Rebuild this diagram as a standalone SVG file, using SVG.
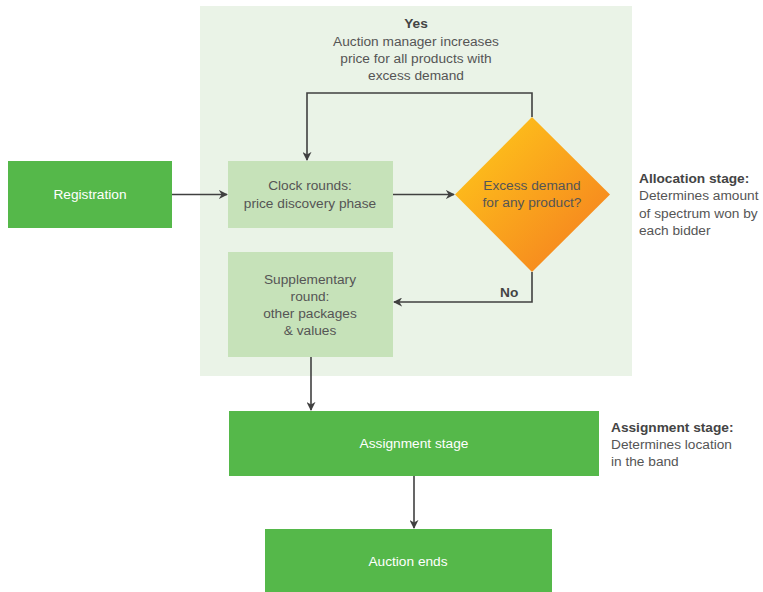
<svg xmlns="http://www.w3.org/2000/svg" width="763" height="592" viewBox="0 0 763 592">
<style>
text{font-family:"Liberation Sans",Arial,sans-serif;font-size:13.7px;fill:#555}
.w{fill:#fff}
.b{font-weight:bold;fill:#444}
.c{text-anchor:middle}
.ln{fill:none;stroke:#404040;stroke-width:1.6}
.dark{fill:#55b84a}
.light{fill:#c6e2b9}
</style>
<defs>
<marker id="ah" viewBox="0 0 10 10" refX="9" refY="5" markerWidth="9" markerHeight="9" markerUnits="userSpaceOnUse" orient="auto">
<path d="M0,0 L10,5 L0,10 L3,5 Z" fill="#404040"/>
</marker>
<linearGradient id="og" x1="0" y1="0" x2="1" y2="1">
<stop offset="0.2" stop-color="#fdbc1b"/>
<stop offset="0.85" stop-color="#f6861f"/>
</linearGradient>
</defs>
<rect id="panel" x="200" y="6" width="432" height="370" fill="#eaf3e7"/>
<g id="yes-label">
<text class="b c" x="416" y="28">Yes</text>
<text class="c" x="416" y="46">Auction manager increases</text>
<text class="c" x="416" y="63">price for all products with</text>
<text class="c" x="416" y="80">excess demand</text>
</g>
<g id="registration">
<rect class="dark" x="8" y="161" width="164" height="67"/>
<text class="w c" x="90" y="199">Registration</text>
</g>
<g id="clock">
<rect class="light" x="228" y="161" width="165" height="67"/>
<text class="c" x="310" y="190">Clock rounds:</text>
<text class="c" x="310" y="208">price discovery phase</text>
</g>
<g id="supplementary">
<rect class="light" x="228" y="252" width="165" height="105"/>
<text class="c" x="310" y="284">Supplementary</text>
<text class="c" x="310" y="301">round:</text>
<text class="c" x="310" y="318">other packages</text>
<text class="c" x="310" y="335">&amp; values</text>
</g>
<g id="decision">
<polygon points="532,117 610,194.5 532,272 455,194.5" fill="url(#og)"/>
<text class="c" x="532" y="190">Excess demand</text>
<text class="c" x="532" y="207">for any product?</text>
</g>
<g id="assignment">
<rect class="dark" x="229" y="411" width="370" height="65"/>
<text class="w c" x="414" y="448">Assignment stage</text>
</g>
<g id="end">
<rect class="dark" x="265" y="529" width="287" height="63"/>
<text class="w c" x="408" y="566">Auction ends</text>
</g>
<g id="allocation-note">
<text class="b" x="639" y="183">Allocation stage:</text>
<text x="639" y="200">Determines amount</text>
<text x="639" y="218">of spectrum won by</text>
<text x="639" y="235">each bidder</text>
</g>
<g id="assignment-note">
<text class="b" x="611" y="432">Assignment stage:</text>
<text x="611" y="449">Determines location</text>
<text x="611" y="466">in the band</text>
</g>
<g id="connectors">
<line class="ln" x1="172" y1="194.5" x2="227" y2="194.5" marker-end="url(#ah)"/>
<line class="ln" x1="393" y1="194.5" x2="454" y2="194.5" marker-end="url(#ah)"/>
<polyline class="ln" points="532,117 532,93 307,93 307,160" marker-end="url(#ah)"/>
<polyline class="ln" points="532,272 532,302 394,302" marker-end="url(#ah)"/>
<line class="ln" x1="311" y1="357" x2="311" y2="410" marker-end="url(#ah)"/>
<line class="ln" x1="414" y1="476" x2="414" y2="528" marker-end="url(#ah)"/>
<text class="b" x="500" y="297">No</text>
</g>
</svg>
